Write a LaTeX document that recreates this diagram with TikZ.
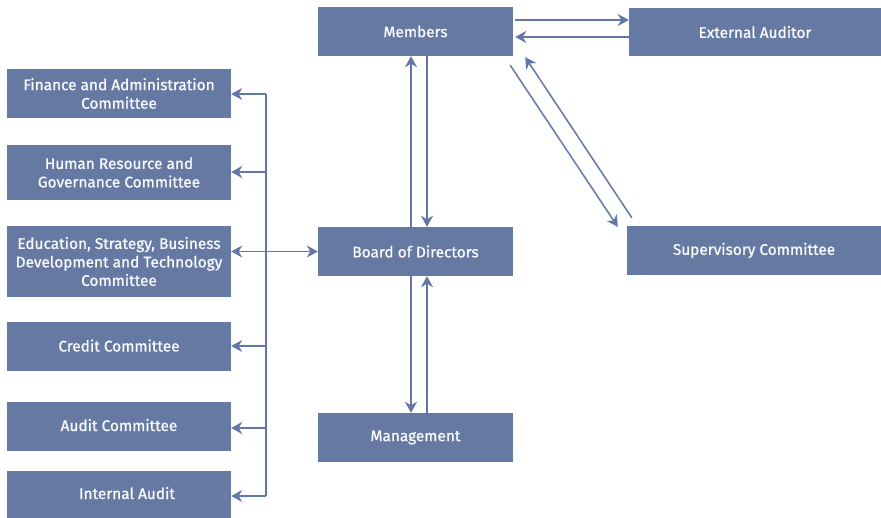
\documentclass[tikz,border=0pt]{standalone}
\usepackage{fontspec}
\setmainfont{Fira Sans}[FakeBold=0.9]
\usetikzlibrary{arrows.meta,calc}
\definecolor{boxc}{RGB}{101,121,163}
\definecolor{linec}{RGB}{98,118,168}
\begin{document}
\begin{tikzpicture}[x=1pt,y=-1pt,
 box/.style={fill=boxc, text=white!96!boxc, align=center, inner sep=0pt, font=\fontsize{15.4}{18.5}\selectfont},
 lbox/.style={box, minimum width=224pt},
 cbox/.style={box, minimum width=195pt, minimum height=49pt},
 arr/.style={draw=linec, line width=1.5pt, -{Stealth[length=11pt,width=12pt,inset=3.5pt]}},
 darr/.style={draw=linec, line width=1.5pt, {Stealth[length=11pt,width=12pt,inset=3.5pt]}-{Stealth[length=11pt,width=12pt,inset=3.5pt]}},
 ln/.style={draw=linec, line width=1.5pt}]
\useasboundingbox (0,0) rectangle (881,518);
% centre column
\node[cbox] (members) at (415.5,31.5) {Members};
\node[cbox] (board) at (415.5,251.5) {Board of Directors};
\node[cbox] (mgmt) at (415.5,437.5) {Management};
% right column
\node[box, minimum width=252pt, minimum height=48pt] (ext) at (755,32) {\raisebox{-1pt}{External Auditor}};
\node[box, minimum width=254pt, minimum height=49pt] (sup) at (754,250.5) {\raisebox{-1.5pt}{Supervisory Committee}};
% left column
\node[lbox, minimum height=49pt] (fin) at (119,93.5) {Finance and Administration\\Committee};
\node[lbox, minimum height=55pt] (hr) at (119,172.5) {Human Resource and\\Governance Committee};
\node[lbox, minimum height=71pt] (edu) at (119,261.5) {Education, Strategy, Business\\Development and Technology\\Committee};
\node[lbox, minimum height=49pt] (cred) at (119,346.5) {\raisebox{2pt}{Credit Committee}};
\node[lbox, minimum height=49pt] (aud) at (119,426.5) {\raisebox{3pt}{Audit Committee}};
\node[lbox, minimum height=47pt] (int) at (119,494.5) {\hspace*{16pt}\raisebox{3pt}{Internal Audit}};
% bus
\coordinate (bustop) at (266,94);
\coordinate (busbot) at (266,496);
\draw[ln] (bustop) -- (busbot);
\draw[arr] (bustop) -- (bustop -| fin.east);
\draw[arr] (266,172) -- (hr.east |- 266,172);
\draw[arr] (266,346) -- (cred.east |- 266,346);
\draw[arr] (266,428) -- (aud.east |- 266,428);
\draw[arr] (busbot) -- (busbot -| int.east);
\draw[darr] (edu.east |- board.west) -- (board.west);
% members - board
\draw[arr] ([xshift=-4.5pt]board.north) -- ([xshift=-4.5pt]members.south);
\draw[arr] ([xshift=11.5pt]members.south) -- ([xshift=11.5pt]board.north);
% board - management
\draw[arr] ([xshift=-4.5pt]board.south) -- ([xshift=-4.5pt]mgmt.north);
\draw[arr] ([xshift=11.5pt]mgmt.north) -- ([xshift=11.5pt]board.south);
% members - external auditor
\draw[arr] ($(members.east |- 0,20)+(2,0)$) -- (ext.west |- 0,20);
\draw[arr] (ext.west |- 0,37) -- ($(members.east |- 0,37)+(2,0)$);
% members - supervisory
\draw[arr] ($(members.south east)+(-3,9)$) -- ($(sup.north west)+(-9,1)$);
\draw[arr] ($(sup.north west)+(5,-8)$) -- ($(members.south east)+(12,1)$);
\end{tikzpicture}
\end{document}
